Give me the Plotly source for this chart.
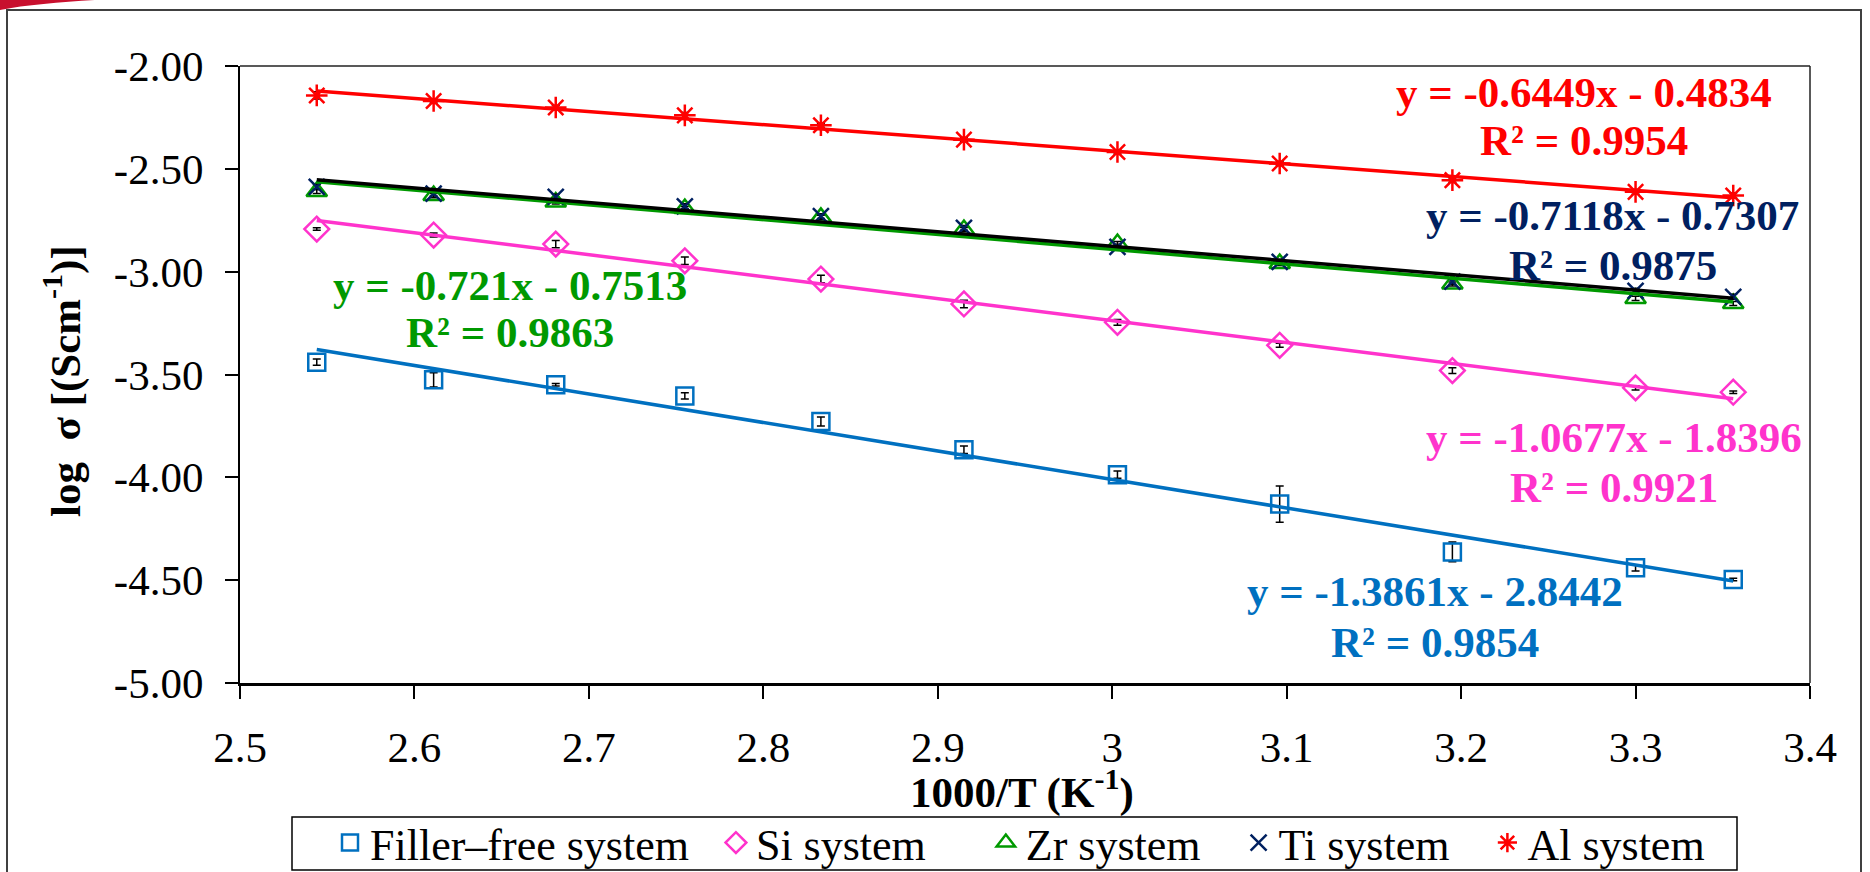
import numpy as np
import plotly.graph_objects as go

# 1000/T values (K^-1) for each measurement temperature
inv_T = [2.544, 2.611, 2.681, 2.755, 2.833, 2.915, 3.003, 3.096, 3.195, 3.300, 3.356]

# log conductivity for each system
filler_free = [-3.440, -3.526, -3.550, -3.604, -3.729, -3.866, -3.987, -4.130, -4.363, -4.440, -4.497]
si_system = [-2.793, -2.822, -2.866, -2.947, -3.036, -3.157, -3.246, -3.358, -3.481, -3.565, -3.586]
zr_system = [-2.610, -2.630, -2.661, -2.693, -2.736, -2.795, -2.863, -2.960, -3.060, -3.130, -3.155]
ti_system = [-2.588, -2.620, -2.636, -2.682, -2.730, -2.787, -2.879, -2.952, -3.049, -3.093, -3.122]
al_system = [-2.143, -2.170, -2.202, -2.240, -2.288, -2.358, -2.418, -2.474, -2.555, -2.612, -2.630]

# error bar half-widths
filler_free_err = [0.015, 0.035, 0.006, 0.015, 0.022, 0.018, 0.018, 0.088, 0.048, 0.015, 0.006]
si_err = [0.006, 0.010, 0.018, 0.018, 0.018, 0.018, 0.014, 0.010, 0.014, 0.010, 0.006]
zr_err = [0.010, 0.010, 0.010, 0.010, 0.010, 0.010, 0.010, 0.010, 0.010, 0.010, 0.010]
ti_err = [0.012, 0.012, 0.012, 0.012, 0.012, 0.012, 0.012, 0.012, 0.012, 0.012, 0.012]
al_err = [0.018, 0.010, 0.010, 0.014, 0.010, 0.010, 0.010, 0.010, 0.010, 0.012, 0.012]

series_names = ["Filler–free system", "Si system", "Zr system", "Ti system", "Al system"]

# fitted-line labels (equation, R²)
fit_equations = ["y = -1.3861x - 2.8442", "y = -1.0677x - 1.8396", "y = -0.721x - 0.7513",
                 "y = -0.7118x - 0.7307", "y = -0.6449x - 0.4834"]
fit_r2 = ["R² = 0.9854", "R² = 0.9921", "R² = 0.9863", "R² = 0.9875", "R² = 0.9954"]

x_title = "<b>1000/T (K<sup>-1</sup>)</b>"
y_title = "<b>log\u00a0\u00a0σ [(Scm<sup>-1</sup>)]</b>"

x_ticks = [2.5, 2.6, 2.7, 2.8, 2.9, 3.0, 3.1, 3.2, 3.3, 3.4]
x_tick_labels = ["2.5", "2.6", "2.7", "2.8", "2.9", "3", "3.1", "3.2", "3.3", "3.4"]
y_ticks = [-5.0, -4.5, -4.0, -3.5, -3.0, -2.5, -2.0]
y_tick_labels = ["-5.00", "-4.50", "-4.00", "-3.50", "-3.00", "-2.50", "-2.00"]

# ---- styling ----
W, H = 1870, 872
ML, MR, MT, MB = 240, 60, 66, 189
PW, PH = W - ML - MR, H - MT - MB
FONT = "Liberation Serif, Times New Roman, serif"

values = [filler_free, si_system, zr_system, ti_system, al_system]
errors = [filler_free_err, si_err, zr_err, ti_err, al_err]
marker_colors = ["#0070C0", "#FF33CC", "#009900", "#002060", "#FF0000"]
line_colors = ["#0070C0", "#FF33CC", "#009900", "#000000", "#FF0000"]
text_colors = ["#0070C0", "#FF33CC", "#009900", "#002060", "#FF0000"]
symbols = ["square-open", "diamond-open", "triangle-up-open", "x-thin-open", "asterisk-open"]
sizes = [17, 19, 18, 16, 18]
# spacing appended after each legend entry
legend_pad = ["\u00a0" * 2, "\u00a0" * 5, "\u00a0" * 3, "\u00a0" * 3, ""]
# label positions (data coords): (x, y_equation, y_r2)
label_pos = [(3.1848, -4.555, -4.803), (3.2874, -3.808, -4.050), (2.6545, -3.065, -3.298),
             (3.2869, -2.725, -2.968), (3.2702, -2.128, -2.361)]


def px_x(p):
    return (p - ML) / PW


def px_y(p):
    return (H - MB - p) / PH


fig = go.Figure()

for name, ys, err, col, sym, sz, pad in zip(series_names, values, errors, marker_colors,
                                            symbols, sizes, legend_pad):
    fig.add_trace(go.Scatter(
        x=inv_T, y=ys, mode="markers", name=name + pad,
        marker=dict(symbol=sym, size=sz, color=col, line=dict(width=2.5, color=col)),
        error_y=dict(type="data", array=err, color="black", thickness=1.5, width=4),
    ))

# linear trendlines over the measured range
for ys, col in zip(values, line_colors):
    slope, intercept = np.polyfit(inv_T, ys, 1)
    xs = [inv_T[0], inv_T[-1]]
    fig.add_trace(go.Scatter(
        x=xs, y=[slope * v + intercept for v in xs], mode="lines",
        line=dict(color=col, width=3.5), showlegend=False, hoverinfo="skip",
    ))

annotations = []
for eq, r2, col, (ax, ay1, ay2) in zip(fit_equations, fit_r2, text_colors, label_pos):
    for txt, ay in ((eq, ay1), (r2, ay2)):
        annotations.append(dict(
            x=ax, y=ay, xref="x", yref="y", text="<b>" + txt + "</b>", showarrow=False,
            xanchor="center", yanchor="middle", font=dict(size=43, color=col, family=FONT),
        ))

# axis titles
annotations.append(dict(
    x=px_x(1022), y=px_y(789), xref="paper", yref="paper", text=x_title, showarrow=False,
    xanchor="center", yanchor="middle", font=dict(size=43, color="black", family=FONT),
))
annotations.append(dict(
    x=px_x(62), y=px_y(381), xref="paper", yref="paper", text=y_title, showarrow=False,
    textangle=-90, xanchor="center", yanchor="middle",
    font=dict(size=43, color="black", family=FONT),
))

shapes = [
    # top and right frame of the plotting area
    dict(type="line", xref="paper", yref="paper", x0=0, x1=1, y0=1, y1=1,
         line=dict(color="#222222", width=1.5)),
    dict(type="line", xref="paper", yref="paper", x0=1, x1=1, y0=0, y1=1,
         line=dict(color="#222222", width=1.5)),
    # legend box
    dict(type="rect", xref="paper", yref="paper", x0=px_x(292), x1=px_x(1737),
         y0=px_y(870), y1=px_y(817), line=dict(color="black", width=1.5)),
    # outer chart border
    dict(type="rect", xref="paper", yref="paper", x0=px_x(7), x1=px_x(1861),
         y0=px_y(900), y1=px_y(10), line=dict(color="#404040", width=2)),
    # red corner accent
    dict(type="path", xref="paper", yref="paper",
         path="M {:.4f} {:.4f} L {:.4f} {:.4f} C {:.4f} {:.4f} {:.4f} {:.4f} {:.4f} {:.4f} Z".format(
             px_x(0), px_y(0), px_x(95), px_y(0), px_x(60), px_y(2), px_x(25), px_y(5),
             px_x(0), px_y(10)),
         fillcolor="#C8102E", line=dict(width=0)),
]

fig.update_layout(
    width=W, height=H,
    margin=dict(l=ML, r=MR, t=MT, b=MB, autoexpand=False),
    paper_bgcolor="white", plot_bgcolor="white",
    font=dict(family=FONT, color="black", size=43),
    showlegend=True,
    legend=dict(orientation="h", x=px_x(330), xanchor="left", y=px_y(843), yanchor="middle",
                font=dict(size=44, family=FONT), bgcolor="rgba(0,0,0,0)", borderwidth=0),
    xaxis=dict(range=[2.5, 3.4], tickmode="array", tickvals=x_ticks, ticktext=x_tick_labels,
               ticks="outside", ticklen=13, tickwidth=1.5, tickcolor="black",
               showline=True, linewidth=3, linecolor="black", showgrid=False, zeroline=False,
               tickfont=dict(size=43), ticklabelstandoff=11),
    yaxis=dict(range=[-5, -2], tickmode="array", tickvals=y_ticks, ticktext=y_tick_labels,
               ticks="outside", ticklen=13, tickwidth=1.5, tickcolor="black",
               showline=True, linewidth=2, linecolor="black", showgrid=False, zeroline=False,
               tickfont=dict(size=43), ticklabelstandoff=13),
    annotations=annotations,
    shapes=shapes,
)

fig.write_html("out.html")
